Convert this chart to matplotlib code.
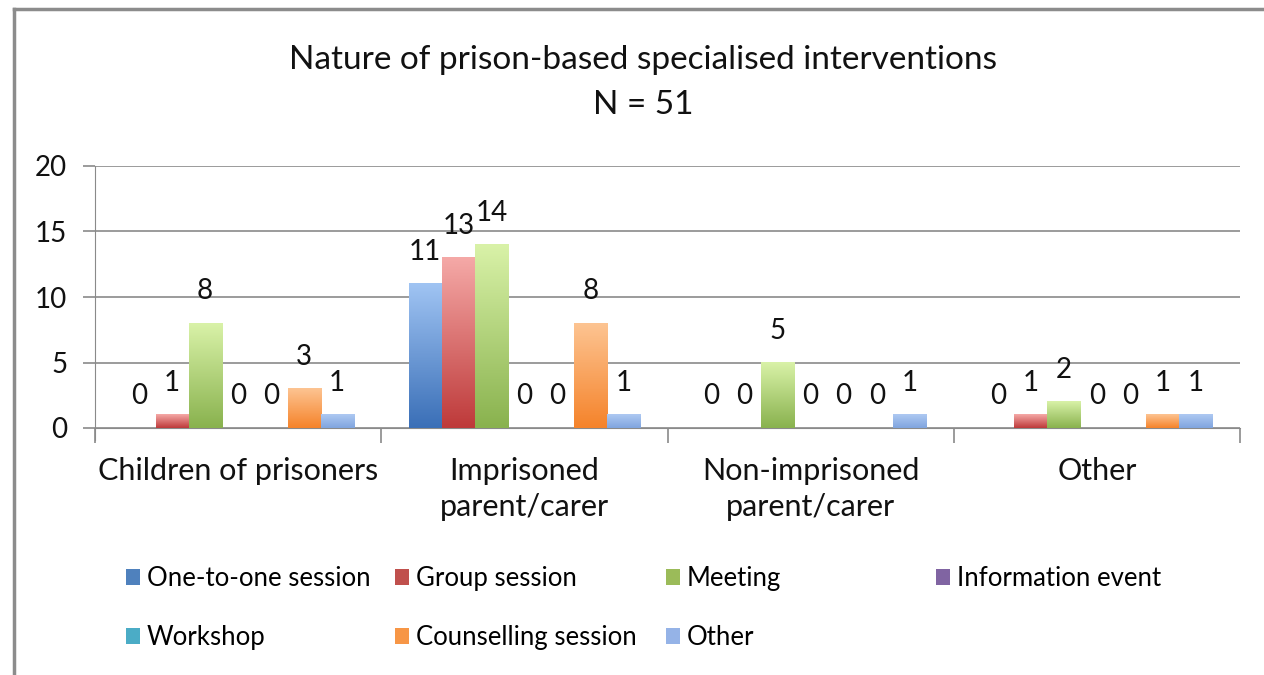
import numpy as np
import matplotlib.pyplot as plt
from matplotlib.colors import LinearSegmentedColormap
from matplotlib.patches import Patch
from matplotlib.lines import Line2D

plt.rcParams['font.family'] = ['Lato', 'DejaVu Sans']

categories = ["Children of prisoners", "Imprisoned\nparent/carer",
              "Non-imprisoned\nparent/carer", "Other"]
series = ["One-to-one session", "Group session", "Meeting", "Information event",
          "Workshop", "Counselling session", "Other"]
one_to_one = [0, 11, 0, 0]
group_session = [1, 13, 0, 1]
meeting = [8, 14, 5, 2]
information_event = [0, 0, 0, 0]
workshop = [0, 0, 0, 0]
counselling = [3, 8, 0, 1]
other = [1, 1, 1, 1]
values = [one_to_one, group_session, meeting, information_event,
          workshop, counselling, other]

# gradient colours (bottom, top) in the old Excel style
grad = [("#3a6fb7", "#a0c4f3"), ("#be3a3a", "#f5a9a7"), ("#89b24e", "#d9f2a8"),
        ("#6e5495", "#b9a6d6"), ("#35a0bc", "#a0ddeb"), ("#f5832a", "#fdc492"),
        ("#80a5df", "#aec9f2")]
mid = ["#4f81bd", "#c0504d", "#9bbb59", "#8064a2", "#4bacc6", "#f79646", "#95b3e7"]

fig = plt.figure(figsize=(12.64, 6.75), dpi=100)
ax = fig.add_axes([95 / 1264, 1 - 428 / 675, (1240 - 95) / 1264, (428 - 166) / 675])

# outer chart frame (left and top edges visible)
fig.add_artist(Line2D([14 / 1264, 14 / 1264], [0, 1 - 9 / 675], color="#8c8c8c", lw=2.5))
fig.add_artist(Line2D([14 / 1264, 1], [1 - 9 / 675, 1 - 9 / 675], color="#8c8c8c", lw=2.5))

n = len(series)
width = 0.1154
x = np.arange(len(categories))
grad_img = np.linspace(0, 1, 200).reshape(-1, 1)

for i, (vals, (c0, c1)) in enumerate(zip(values, grad)):
    cmap = LinearSegmentedColormap.from_list("g%d" % i, [c0, c1])
    xs = x + (i - (n - 1) / 2) * width
    for xi, v in zip(xs, vals):
        if v > 0:
            ax.imshow(grad_img, extent=(xi - width / 2, xi + width / 2, 0, v),
                      origin="lower", aspect="auto", cmap=cmap, zorder=3)
        ax.annotate(str(v), (xi, v), xytext=(0, 23), textcoords="offset points",
                    ha="center", va="center", fontsize=20, color="#111111", zorder=4)

ax.set_xlim(-0.5, len(categories) - 0.5)
ax.set_ylim(0, 20)
ax.set_yticks([0, 5, 10, 15, 20])
ax.grid(axis="y", color="#8a8a8a", lw=1.2, zorder=0)
ax.set_axisbelow(True)
for s in ["top", "right"]:
    ax.spines[s].set_visible(False)
ax.spines["left"].set_color("#8a8a8a")
ax.spines["bottom"].set_color("#8a8a8a")
ax.spines["left"].set_bounds(-0.9, 20)

ax.set_xticks(np.arange(len(categories) + 1) - 0.5)
ax.set_xticklabels([])
ax.set_xticks(x, minor=True)
ax.set_xticklabels(categories, minor=True, fontsize=22, color="#111111", linespacing=1.32)
ax.tick_params(axis="x", which="major", length=11, color="#8a8a8a", width=1.2)
ax.tick_params(axis="x", which="minor", length=0, pad=21)
ax.tick_params(axis="y", length=9, color="#8a8a8a", width=1.2, labelsize=20,
               labelcolor="#111111", pad=11)
for lab in ax.get_xticklabels(minor=True):
    lab.set_verticalalignment("top")

fig.text(643 / 1264, 1 - 60 / 675, "Nature of prison-based specialised interventions",
         ha="center", va="center", fontsize=24, color="#111111")
fig.text(643 / 1264, 1 - 105 / 675, "N = 51", ha="center", va="center",
         fontsize=24, color="#111111")

# legend laid out in four fixed columns, two rows
col_x = [126, 395, 666, 936]
for c, cx in enumerate(col_x):
    idx = [k for k in (c, c + 4) if k < n]
    handles = [Patch(facecolor=mid[k], edgecolor="none") for k in idx]
    fig.legend(handles, [series[k] for k in idx], loc="upper left",
               bbox_to_anchor=(cx / 1264, 1 - 566 / 675), frameon=False,
               fontsize=18.5, handlelength=0.55, handleheight=0.55,
               handletextpad=0.25, labelspacing=1.32, borderpad=0,
               borderaxespad=0)

fig.savefig("out.png", dpi=100)
